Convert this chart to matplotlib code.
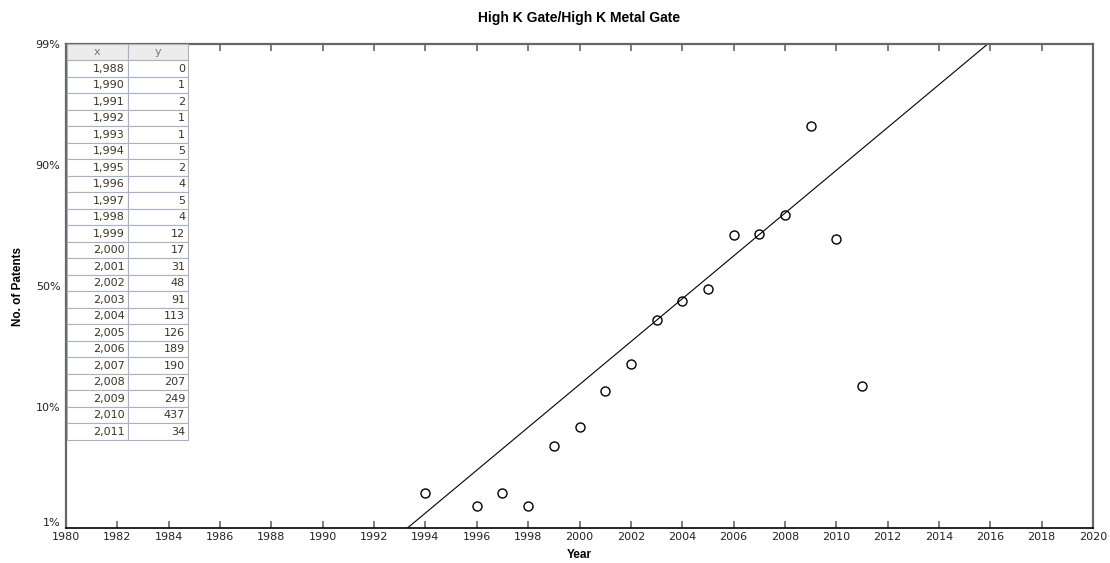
import numpy as np
import matplotlib
matplotlib.use("Agg")
import matplotlib.pyplot as plt
from matplotlib.ticker import FixedLocator, FixedFormatter

plt.rcParams['font.family'] = ['Liberation Sans', 'DejaVu Sans']

# patent counts per year (table)
table_years = [1988, 1990, 1991, 1992, 1993, 1994, 1995, 1996, 1997, 1998, 1999, 2000,
               2001, 2002, 2003, 2004, 2005, 2006, 2007, 2008, 2009, 2010, 2011]
table_counts = [0, 1, 2, 1, 1, 5, 2, 4, 5, 4, 12, 17, 31, 48, 91, 113, 126, 189,
                190, 207, 249, 437, 34]

# plotted points on the probability axis (percent)
point_years = [1994, 1996, 1997, 1998, 1999, 2000, 2001, 2002, 2003, 2004, 2005,
               2006, 2007, 2008, 2009, 2010, 2011]
point_pct = [3.6, 2.6, 3.6, 2.6, 7.1, 8.5, 15.3, 24.2, 38.8, 45.0, 49.0,
             66.8, 67.2, 73.5, 92.9, 65.5, 17.0]

# fitted trend: years where it crosses 1% and 99%
fit_years = [1993.3, 2015.9]
fit_pct = [1, 99]

y_ticks = [1, 10, 50, 90, 99]
y_labels = ['1%', '10%', '50%', '90%', '99%']
x_ticks = list(range(1980, 2021, 2))

tick_pos = np.arange(len(y_ticks), dtype=float)


def fwd(p):
    return np.interp(p, y_ticks, tick_pos)


def inv(v):
    return np.interp(v, tick_pos, y_ticks)


fig = plt.figure(figsize=(11.1, 5.63), dpi=100)
ax = fig.add_axes([66 / 1110, 35 / 563, 1027 / 1110, 484 / 563])
ax.set_yscale('function', functions=(fwd, inv))
ax.set_xlim(1980, 2020)
ax.set_ylim(1, 99)

ax.plot(fit_years, fit_pct, color='black', lw=0.8)
ax.plot(point_years, point_pct, 'o', mfc='none', mec='black', ms=6.5, mew=1.0)

ax.xaxis.set_major_locator(FixedLocator(x_ticks))
ax.yaxis.set_major_locator(FixedLocator(y_ticks))
ax.yaxis.set_major_formatter(FixedFormatter(y_labels))
ax.yaxis.set_minor_locator(FixedLocator([]))
ax.tick_params(axis='x', direction='in', top=True, length=5, width=1.2,
               color='#666666', labelsize=8, labelcolor='#222222', pad=3)
ax.tick_params(axis='y', length=0, labelsize=8, labelcolor='#222222', pad=4)
for lbl in ax.get_xticklabels() + ax.get_yticklabels():
    lbl.set_family('DejaVu Sans')
# lift the bottom percent label clear of the year labels
ax.get_yticklabels()[0].set_verticalalignment('bottom')

for side in ['top', 'right', 'left']:
    ax.spines[side].set_color('#666666')
    ax.spines[side].set_linewidth(1.6)
ax.spines['bottom'].set_color('black')
ax.spines['bottom'].set_linewidth(1.2)

ax.set_title('High K Gate/High K Metal Gate', fontsize=10, fontweight='bold', pad=16)
ax.set_xlabel('Year', fontsize=8.5, fontweight='bold', labelpad=5)
ax.set_ylabel('No. of Patents', fontsize=8.5, fontweight='bold', labelpad=8)

# data table in the upper-left corner
cells = [[f'{y:,}', str(c)] for y, c in zip(table_years, table_counts)]
tbl = ax.table(cellText=cells, colLabels=['x', 'y'], cellLoc='right', colLoc='center',
               bbox=[0.001, 0.182, 0.118, 0.818])
tbl.set_zorder(5)
tbl.auto_set_font_size(False)
tbl.set_fontsize(8)
for (r, c), cell in tbl.get_celld().items():
    cell.set_edgecolor('#a9b3c0')
    cell.set_linewidth(0.8)
    cell.PAD = 0.05
    cell.get_text().set_family('DejaVu Sans')
    if r == 0:
        cell.set_facecolor('#ececec')
        cell.get_text().set_color('#777777')
    else:
        cell.set_facecolor('white')
        cell.get_text().set_color('#3a3424')

fig.savefig('out.png', dpi=100)
